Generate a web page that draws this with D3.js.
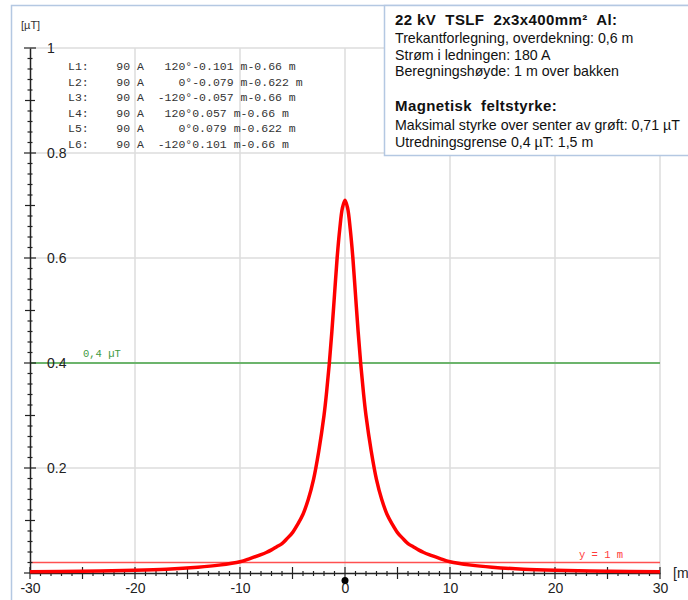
<!DOCTYPE html>
<html lang="no">
<head>
	<title>Magnetisk feltstyrke</title>
	<script src="https://d3js.org/d3.v7.min.js" charset="utf-8"></script>
	<style>
	body { margin: 0; background: #fff; }
	</style>
</head>
<body>
	<script>
	// Data
	var distance = [-30, -25, -20, -17, -14, -12, -10, -9, -8, -7.5, -7, -6.5, -6, -5.5, -5, -4.5, -4, -3.5, -3, -2.5, -2, -1.75, -1.5, -1.25, -1, -0.75, -0.5, -0.25, 0,
		0.25, 0.5, 0.75, 1, 1.25, 1.5, 1.75, 2, 2.5, 3, 3.5, 4, 4.5, 5, 5.5, 6, 6.5, 7, 7.5, 8, 9, 10, 12, 14, 17, 20, 25, 30];
	var field = [0.0024, 0.0034, 0.0052, 0.0072, 0.011, 0.015, 0.0215, 0.028, 0.035, 0.039, 0.044, 0.050, 0.056, 0.066, 0.077, 0.093, 0.112, 0.14, 0.178, 0.232, 0.30, 0.345, 0.398, 0.46, 0.53, 0.60, 0.655, 0.695, 0.71,
		0.695, 0.655, 0.60, 0.53, 0.46, 0.398, 0.345, 0.30, 0.232, 0.178, 0.14, 0.112, 0.093, 0.077, 0.066, 0.056, 0.050, 0.044, 0.039, 0.035, 0.028, 0.0215, 0.015, 0.011, 0.0072, 0.0052, 0.0034, 0.0024];

	var xTicks = [-30, -20, -10, 0, 10, 20, 30];
	var yTicks = [0.2, 0.4, 0.6, 0.8, 1];
	var limitValue = 0.4;   // utredningsgrense
	var heightLine = 0.02;  // "y = 1 m" line

	// cable table (top left)
	var conductors = ["L1", "L2", "L3", "L4", "L5", "L6"];
	var currents = [90, 90, 90, 90, 90, 90];
	var phases = [120, 0, -120, 120, 0, -120];
	var posX = ["-0.101", "-0.079", "-0.057", "0.057", "0.079", "0.101"];
	var posY = ["-0.66", "-0.622", "-0.66", "-0.66", "-0.622", "-0.66"];

	var infoLines = [
		{ t: "22 kV  TSLF  2x3x400mm\u00b2  Al:", b: true, y: 25 },
		{ t: "Trekantforlegning, overdekning: 0,6 m", b: false, y: 43 },
		{ t: "Str\u00f8m i ledningen: 180 A", b: false, y: 59.5 },
		{ t: "Beregningsh\u00f8yde: 1 m over bakken", b: false, y: 76 },
		{ t: "Magnetisk  feltstyrke:", b: true, y: 111 },
		{ t: "Maksimal styrke over senter av gr\u00f8ft: 0,71 \u00b5T", b: false, y: 130 },
		{ t: "Utredningsgrense 0,4 \u00b5T: 1,5 m", b: false, y: 146.5 }
	];

	var w = 688;
	var h = 600;
	var sans = "'Liberation Sans', Arial, sans-serif";
	var mono = "'Liberation Mono', 'Courier New', monospace";

	var svg = d3.select("body")
		.append("svg")
		.attr("width", w)
		.attr("height", h)
		.style("font-family", sans);

	var xScale = d3.scaleLinear().domain([-30, 30]).range([30, 660]);
	var yScale = d3.scaleLinear().domain([0, 1]).range([573, 48]);

	// outer frame
	svg.append("rect")
		.attr("x", 11.5).attr("y", 5.5)
		.attr("width", 800).attr("height", 800)
		.attr("fill", "none")
		.attr("stroke", "#b4c8e2")
		.attr("stroke-width", 1.5);

	// grid
	svg.selectAll(".vgrid")
		.data(xTicks.slice(1))
		.enter()
		.append("line")
		.attr("x1", function(d){ return xScale(d); })
		.attr("x2", function(d){ return xScale(d); })
		.attr("y1", yScale(1))
		.attr("y2", yScale(0))
		.attr("stroke", "#dcdcdc")
		.attr("stroke-width", 1.5);

	svg.selectAll(".hgrid")
		.data(yTicks)
		.enter()
		.append("line")
		.attr("x1", xScale(-30))
		.attr("x2", xScale(30))
		.attr("y1", function(d){ return yScale(d); })
		.attr("y2", function(d){ return yScale(d); })
		.attr("stroke", "#dcdcdc")
		.attr("stroke-width", 1.5);

	// 0,4 uT line
	svg.append("line")
		.attr("x1", xScale(-30)).attr("x2", xScale(30))
		.attr("y1", yScale(limitValue)).attr("y2", yScale(limitValue))
		.attr("stroke", "#6cb46c")
		.attr("stroke-width", 2);
	svg.append("text")
		.attr("x", 83).attr("y", yScale(limitValue) - 6)
		.style("font-family", mono)
		.style("font-size", "10.5px")
		.attr("fill", "#3f9a3f")
		.text("0,4 \u00b5T");

	// y = 1 m line
	svg.append("line")
		.attr("x1", xScale(-30)).attr("x2", xScale(30))
		.attr("y1", yScale(heightLine)).attr("y2", yScale(heightLine))
		.attr("stroke", "#ff5050")
		.attr("stroke-width", 1.5);
	svg.append("text")
		.attr("x", 579).attr("y", yScale(heightLine) - 5)
		.style("font-family", mono)
		.style("font-size", "10.5px")
		.attr("fill", "#ff3a3a")
		.text("y = 1 m");

	// x axis
	var xAxis = d3.axisBottom(xScale)
		.tickValues(xTicks)
		.tickSize(0)
		.tickPadding(10)
		.tickFormat(function(d){ return String(d); });
	var gx = svg.append("g")
		.attr("transform", "translate(0," + yScale(0) + ")")
		.call(xAxis);
	gx.select(".domain").attr("stroke", "#222").attr("stroke-width", 1.5);
	gx.selectAll("text")
		.style("font-family", sans)
		.style("font-size", "14px")
		.attr("fill", "#222");
	gx.selectAll(".xminor")
		.data(d3.range(-30, 31, 1))
		.enter()
		.append("line")
		.attr("x1", function(d){ return xScale(d); })
		.attr("x2", function(d){ return xScale(d); })
		.attr("y1", function(d){ return d % 5 === 0 ? -6 : -2; })
		.attr("y2", function(d){ return d % 5 === 0 ? 6 : 3; })
		.attr("stroke", "#222")
		.attr("stroke-width", 1.2);

	// y axis (labels to the right of the line)
	var yAxis = d3.axisRight(yScale)
		.tickValues(yTicks)
		.tickSize(0)
		.tickPadding(17)
		.tickFormat(function(d){ return d === 1 ? "1" : d3.format(".1f")(d); });
	var gy = svg.append("g")
		.attr("transform", "translate(" + xScale(-30) + ",0)")
		.call(yAxis);
	gy.select(".domain").attr("stroke", "#222").attr("stroke-width", 1.5);
	gy.selectAll("text")
		.style("font-family", sans)
		.style("font-size", "14px")
		.attr("fill", "#222");
	gy.selectAll(".yminor")
		.data(d3.range(0, 51, 1))
		.enter()
		.append("line")
		.attr("x1", function(d){ return d % 10 === 0 ? -6 : (d % 5 === 0 ? -5 : -2.5); })
		.attr("x2", function(d){ return d % 10 === 0 ? 6 : (d % 5 === 0 ? 5 : 2.5); })
		.attr("y1", function(d){ return yScale(d / 50); })
		.attr("y2", function(d){ return yScale(d / 50); })
		.attr("stroke", "#222")
		.attr("stroke-width", 1.2);

	// unit labels
	svg.append("text")
		.attr("x", 21).attr("y", 29)
		.style("font-size", "11px")
		.attr("fill", "#333")
		.text("[\u00b5T]");
	svg.append("text")
		.attr("x", 673).attr("y", yScale(0) + 5)
		.style("font-size", "14px")
		.attr("fill", "#222")
		.text("[m");

	// field curve
	var points = distance.map(function(d, i){ return [d, field[i]]; });
	var line = d3.line()
		.x(function(d){ return xScale(d[0]); })
		.y(function(d){ return yScale(d[1]); })
		.curve(d3.curveCatmullRom.alpha(0.5));
	svg.append("path")
		.datum(points)
		.attr("d", line)
		.attr("fill", "none")
		.attr("stroke", "#ff0000")
		.attr("stroke-width", 3.5);

	// trench centre marker
	svg.append("circle")
		.attr("cx", xScale(0)).attr("cy", yScale(0) + 7.5)
		.attr("r", 3.5)
		.attr("fill", "#000");

	// cable table
	function pad(s, n){ s = String(s); while (s.length < n) s = " " + s; return s; }
	svg.selectAll(".cable")
		.data(conductors)
		.enter()
		.append("text")
		.attr("x", 68)
		.attr("y", function(d, i){ return 70 + i * 15.5; })
		.attr("xml:space", "preserve")
		.style("white-space", "pre")
		.style("font-family", mono)
		.style("font-size", "11.5px")
		.attr("fill", "#333")
		.text(function(d, i){
			return d + ":" + pad(currents[i], 6) + " A" + pad(phases[i], 6) + "\u00b0" + posX[i] + " m" + posY[i] + " m";
		});

	// info box
	svg.append("rect")
		.attr("x", 384.5).attr("y", 5.5)
		.attr("width", 400).attr("height", 150)
		.attr("fill", "#fff")
		.attr("stroke", "#b4c8e2")
		.attr("stroke-width", 1.5);
	svg.selectAll(".info")
		.data(infoLines)
		.enter()
		.append("text")
		.attr("x", 395)
		.attr("y", function(d){ return d.y; })
		.attr("xml:space", "preserve")
		.style("white-space", "pre")
		.style("font-size", function(d){ return d.b ? "15px" : "14.2px"; })
		.style("font-weight", function(d){ return d.b ? "bold" : "normal"; })
		.style("letter-spacing", function(d){ return d.b ? "0.4px" : "0px"; })
		.attr("fill", "#111")
		.text(function(d){ return d.t; });
	</script>
</body>
</html>
